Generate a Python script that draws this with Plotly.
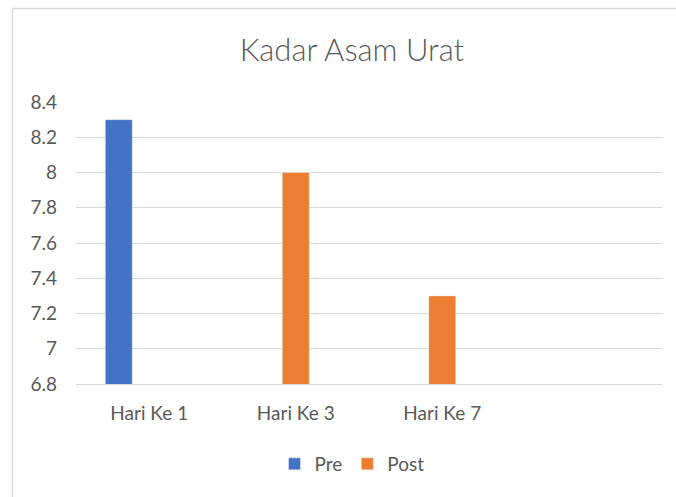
import plotly.graph_objects as go

categories = ["Hari Ke 1", "Hari Ke 3", "Hari Ke 7"]
pre_values = [8.3, None, None]
post_values = [None, 8.0, 7.3]
blank_values = [None, None, None]
y_ticks = [6.8, 7.0, 7.2, 7.4, 7.6, 7.8, 8.0, 8.2, 8.4]
y_tick_labels = ["6.8", "7", "7.2", "7.4", "7.6", "7.8", "8", "8.2", "8.4"]

x_pos = list(range(len(categories)))
font_family = "Lato, 'Noto Sans', sans-serif"
text_color = "#595959"

fig = go.Figure()
fig.add_trace(go.Bar(name="Pre", x=x_pos, y=pre_values, marker_color="#4472C4"))
fig.add_trace(go.Bar(name="Post", x=x_pos, y=post_values, marker_color="#ED7D31"))
fig.add_trace(go.Bar(name="", x=x_pos, y=blank_values, marker_color="#A5A5A5", showlegend=False))

W, H = 676, 497
L, R, T, B = 76, 14, 102, 113
pw, ph = W - L - R, H - T - B

def px_x(x):
    return (x - L) / pw

def px_y(y):
    return (H - B - y) / ph

fig.update_layout(
    width=W, height=H,
    margin=dict(l=L, r=R, t=T, b=B),
    paper_bgcolor="white", plot_bgcolor="white",
    barmode="group", bargap=0.376, bargroupgap=0.115,
    font=dict(family=font_family, color=text_color, size=19),
    title=dict(text="Kadar Asam Urat", x=352 / W, xref="container", xanchor="center",
               y=1 - 50 / H, yref="container", yanchor="middle",
               font=dict(size=31, color=text_color, family=font_family, weight=300)),
    showlegend=True,
    legend=dict(orientation="h", x=352 / W, xref="container", xanchor="center",
                y=1 - 464 / H, yref="container", yanchor="middle",
                font=dict(size=19, color=text_color), itemwidth=30,
                traceorder="normal"),
    xaxis=dict(range=[-0.5, 3.5], tickvals=x_pos, ticktext=categories,
               showgrid=False, zeroline=False, showline=True, linecolor="#d9d9d9", linewidth=1,
               ticks="", ticklabelstandoff=12, tickfont=dict(size=19, color=text_color),
               fixedrange=True),
    yaxis=dict(range=[6.8, 8.4], tickvals=y_ticks, ticktext=y_tick_labels,
               showgrid=True, gridcolor="#d9d9d9", gridwidth=1, zeroline=False,
               showline=False, ticks="", ticklabelstandoff=18,
               tickfont=dict(size=19, color=text_color), fixedrange=True),
    shapes=[
        dict(type="line", xref="paper", yref="paper", x0=px_x(12.5), x1=px_x(12.5),
             y0=px_y(8.5), y1=px_y(500), line=dict(color="#d9d9d9", width=1.5)),
        dict(type="line", xref="paper", yref="paper", x0=px_x(12.5), x1=px_x(680),
             y0=px_y(8.5), y1=px_y(8.5), line=dict(color="#d9d9d9", width=1.5)),
    ],
)

fig.write_html("out.html", config={"displayModeBar": False},
               post_script="document.body.style.margin='0';")
